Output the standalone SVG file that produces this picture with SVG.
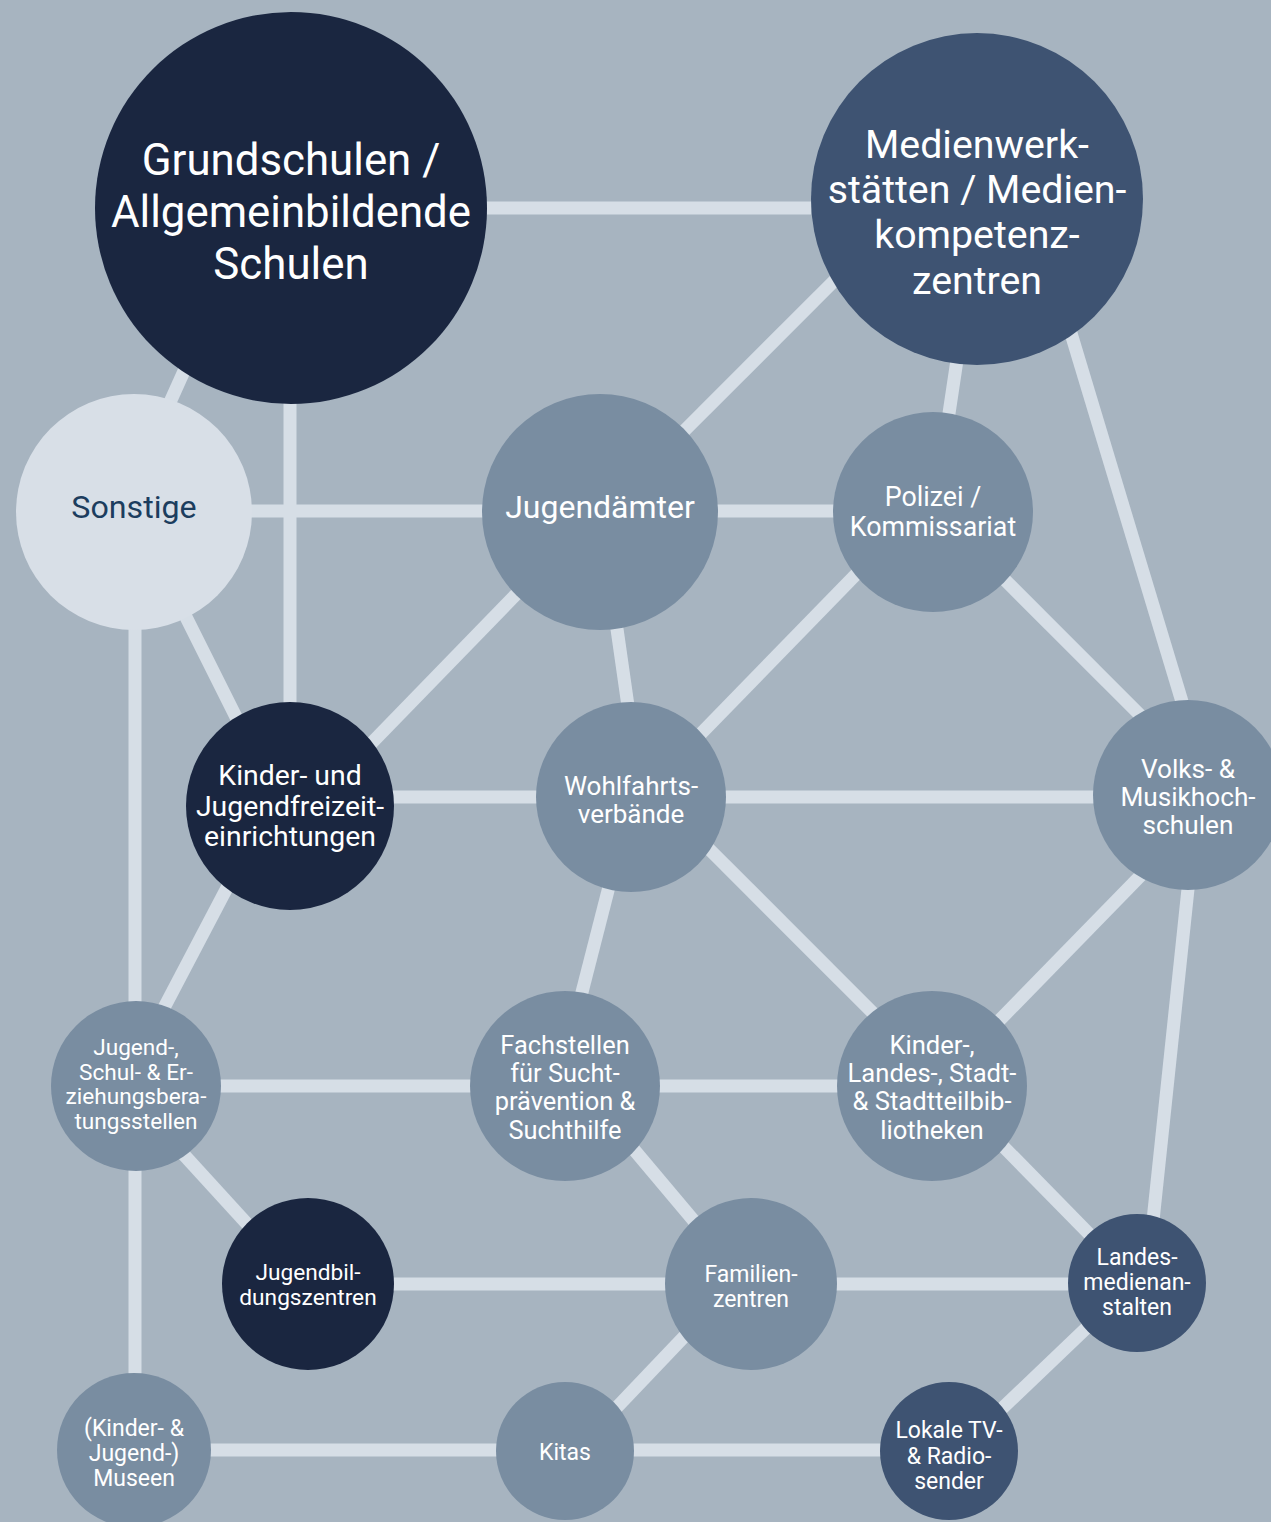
<svg xmlns="http://www.w3.org/2000/svg" width="1271" height="1522" viewBox="0 0 1271 1522">
<style>
.bg{fill:#a7b4c0}
.ln{stroke:#d6dee6;stroke-width:13;fill:none;stroke-linecap:butt}
.n1{fill:#1a2640}
.n2{fill:#3e5372}
.n3{fill:#798da1}
.n4{fill:#d8dfe7}
text{font-family:Roboto,"Noto Sans","Liberation Sans",sans-serif;font-weight:400;fill:#ffffff;text-anchor:middle}
.dk{fill:#1c3d5e}
</style>
<rect class="bg" x="0" y="0" width="1271" height="1522"/>
<g id="connectors">
<line class="ln" x1="487" y1="208" x2="811" y2="208"/>
<line class="ln" x1="189" y1="360" x2="162" y2="420"/>
<line class="ln" x1="290" y1="400" x2="290" y2="705"/>
<line class="ln" x1="250" y1="511" x2="485" y2="511"/>
<line class="ln" x1="175" y1="595" x2="245" y2="735"/>
<line class="ln" x1="135" y1="625" x2="135" y2="1005"/>
<line class="ln" x1="850" y1="265" x2="670" y2="445"/>
<line class="ln" x1="960" y1="340" x2="945" y2="440"/>
<line class="ln" x1="1070" y1="330" x2="1183" y2="705"/>
<line class="ln" x1="715" y1="511" x2="835" y2="511"/>
<line class="ln" x1="530" y1="580" x2="360" y2="755"/>
<line class="ln" x1="615" y1="615" x2="630" y2="720"/>
<line class="ln" x1="870" y1="560" x2="685" y2="750"/>
<line class="ln" x1="990" y1="565" x2="1150" y2="725"/>
<line class="ln" x1="390" y1="797" x2="540" y2="797"/>
<line class="ln" x1="240" y1="863" x2="155" y2="1025"/>
<line class="ln" x1="720" y1="797" x2="1095" y2="797"/>
<line class="ln" x1="612" y1="875" x2="580" y2="1000"/>
<line class="ln" x1="700" y1="840" x2="875" y2="1015"/>
<line class="ln" x1="1150" y1="866" x2="990" y2="1030"/>
<line class="ln" x1="1190" y1="870" x2="1152" y2="1230"/>
<line class="ln" x1="215" y1="1086" x2="475" y2="1086"/>
<line class="ln" x1="175" y1="1145" x2="260" y2="1238"/>
<line class="ln" x1="135" y1="1165" x2="135" y2="1380"/>
<line class="ln" x1="655" y1="1086" x2="842" y2="1086"/>
<line class="ln" x1="620" y1="1133" x2="710" y2="1240"/>
<line class="ln" x1="995" y1="1138" x2="1100" y2="1245"/>
<line class="ln" x1="390" y1="1284" x2="670" y2="1284"/>
<line class="ln" x1="832" y1="1284" x2="1072" y2="1284"/>
<line class="ln" x1="700" y1="1320" x2="600" y2="1425"/>
<line class="ln" x1="1100" y1="1315" x2="990" y2="1420"/>
<line class="ln" x1="205" y1="1450" x2="500" y2="1450"/>
<line class="ln" x1="630" y1="1450" x2="885" y2="1450"/>
</g>
<g id="n-grundschulen"><circle class="n1" cx="291" cy="208" r="196"/>
<text font-size="43.8"><tspan x="291" y="175">Grundschulen /</tspan><tspan x="291" y="227">Allgemeinbildende</tspan><tspan x="291" y="279">Schulen</tspan></text></g>
<g id="n-medien"><circle class="n2" cx="977" cy="199" r="166"/>
<text font-size="39.3"><tspan x="977" y="158">Medienwerk-</tspan><tspan x="977" y="203">stätten / Medien-</tspan><tspan x="977" y="248">kompetenz-</tspan><tspan x="977" y="294">zentren</tspan></text></g>
<g id="n-sonstige"><circle class="n4" cx="134" cy="512" r="118"/>
<text class="dk" font-size="32.2" x="134" y="518">Sonstige</text></g>
<g id="n-jugendaemter"><circle class="n3" cx="600" cy="512" r="118"/>
<text font-size="32" x="600" y="518">Jugendämter</text></g>
<g id="n-polizei"><circle class="n3" cx="933" cy="512" r="100"/>
<text font-size="26.8"><tspan x="933" y="506">Polizei /</tspan><tspan x="933" y="536">Kommissariat</tspan></text></g>
<g id="n-kjf"><circle class="n1" cx="290" cy="806" r="104"/>
<text font-size="28.4"><tspan x="290" y="785">Kinder- und</tspan><tspan x="290" y="815.5">Jugendfreizeit-</tspan><tspan x="290" y="846">einrichtungen</tspan></text></g>
<g id="n-wohlfahrt"><circle class="n3" cx="631" cy="797" r="95"/>
<text font-size="26"><tspan x="631" y="795">Wohlfahrts-</tspan><tspan x="631" y="823">verbände</tspan></text></g>
<g id="n-volks"><circle class="n3" cx="1188" cy="795" r="95"/>
<text font-size="26.2"><tspan x="1188" y="778">Volks- &amp;</tspan><tspan x="1188" y="806">Musikhoch-</tspan><tspan x="1188" y="834">schulen</tspan></text></g>
<g id="n-beratung"><circle class="n3" cx="136" cy="1086" r="85"/>
<text font-size="22.6"><tspan x="136" y="1055">Jugend-,</tspan><tspan x="136" y="1079.5">Schul- &amp; Er-</tspan><tspan x="136" y="1104">ziehungsbera-</tspan><tspan x="136" y="1128.5">tungsstellen</tspan></text></g>
<g id="n-fachstellen"><circle class="n3" cx="565" cy="1086" r="95"/>
<text font-size="25.4"><tspan x="565" y="1054">Fachstellen</tspan><tspan x="565" y="1082">für Sucht-</tspan><tspan x="565" y="1110">prävention &amp;</tspan><tspan x="565" y="1139">Suchthilfe</tspan></text></g>
<g id="n-bibliotheken"><circle class="n3" cx="932" cy="1086" r="95"/>
<text font-size="25.6"><tspan x="932" y="1054">Kinder-,</tspan><tspan x="932" y="1082">Landes-, Stadt-</tspan><tspan x="932" y="1110">&amp; Stadtteilbib-</tspan><tspan x="932" y="1139">liotheken</tspan></text></g>
<g id="n-jugendbildung"><circle class="n1" cx="308" cy="1284" r="86"/>
<text font-size="22.7"><tspan x="308" y="1280">Jugendbil-</tspan><tspan x="308" y="1305">dungszentren</tspan></text></g>
<g id="n-familien"><circle class="n3" cx="751" cy="1284" r="86"/>
<text font-size="23"><tspan x="751" y="1282">Familien-</tspan><tspan x="751" y="1307">zentren</tspan></text></g>
<g id="n-landesmedien"><circle class="n2" cx="1137" cy="1283" r="69"/>
<text font-size="23"><tspan x="1137" y="1265">Landes-</tspan><tspan x="1137" y="1290">medienan-</tspan><tspan x="1137" y="1315">stalten</tspan></text></g>
<g id="n-museen"><circle class="n3" cx="134" cy="1450" r="77"/>
<text font-size="23"><tspan x="134" y="1436">(Kinder- &amp;</tspan><tspan x="134" y="1461">Jugend-)</tspan><tspan x="134" y="1486">Museen</tspan></text></g>
<g id="n-kitas"><circle class="n3" cx="565" cy="1451" r="69"/>
<text font-size="23" x="565" y="1460">Kitas</text></g>
<g id="n-lokaletv"><circle class="n2" cx="949" cy="1451" r="69"/>
<text font-size="23"><tspan x="949" y="1438">Lokale TV-</tspan><tspan x="949" y="1464">&amp; Radio-</tspan><tspan x="949" y="1489">sender</tspan></text></g>
</svg>
